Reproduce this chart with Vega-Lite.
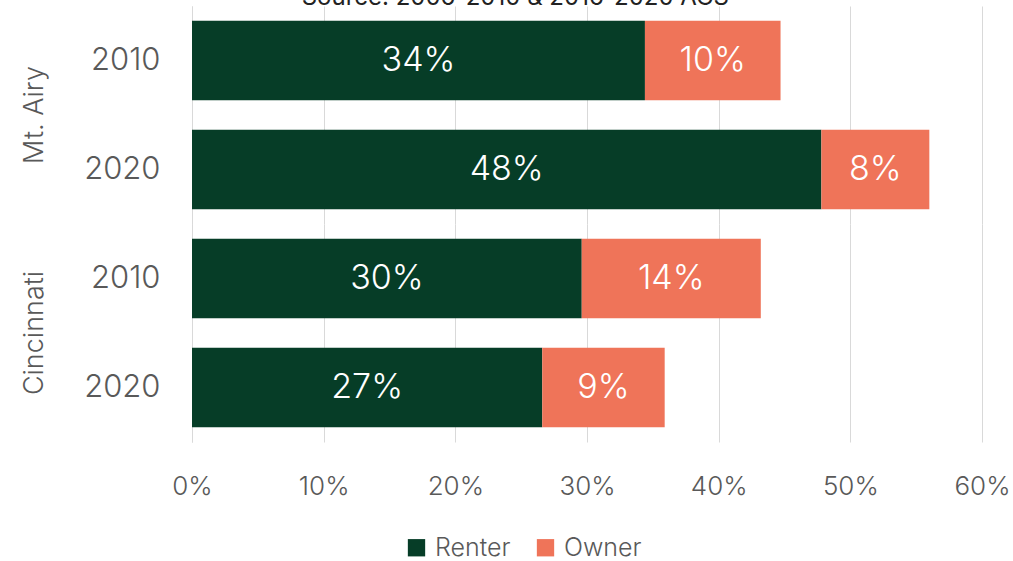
{
  "$schema": "https://vega.github.io/schema/vega-lite/v6.json",
  "background": "white",
  "padding": {"left": 20, "top": -14, "right": 3, "bottom": 2},
  "title": {"text": "Source: 2006-2010 & 2016-2020 ACS", "fontSize": 24, "font": "Inter", "fontWeight": "normal", "color": "#222222", "anchor": "middle", "offset": -4},
  "data": {"values": [
    {"area": "Mt. Airy", "year": "2010", "tenure": "Renter", "value": 0.344},
    {"area": "Mt. Airy", "year": "2010", "tenure": "Owner", "value": 0.103},
    {"area": "Mt. Airy", "year": "2020", "tenure": "Renter", "value": 0.478},
    {"area": "Mt. Airy", "year": "2020", "tenure": "Owner", "value": 0.082},
    {"area": "Cincinnati", "year": "2010", "tenure": "Renter", "value": 0.296},
    {"area": "Cincinnati", "year": "2010", "tenure": "Owner", "value": 0.136},
    {"area": "Cincinnati", "year": "2020", "tenure": "Renter", "value": 0.266},
    {"area": "Cincinnati", "year": "2020", "tenure": "Owner", "value": 0.093}
  ]},
  "transform": [
    {"stack": "value", "groupby": ["area", "year"], "sort": [{"field": "tenure", "order": "descending"}], "as": ["v0", "v1"]},
    {"calculate": "(datum.v0 + datum.v1) / 2", "as": "mid"}
  ],
  "facet": {
    "row": {"field": "area", "type": "nominal", "sort": ["Mt. Airy", "Cincinnati"],
      "header": {"title": null, "labelAngle": -90, "labelOrient": "left", "labelFontSize": 27, "labelFont": "Inter", "labelFontWeight": 300, "labelColor": "#595959", "labelPadding": 22, "labelAlign": "center", "labelBaseline": "middle"}}
  },
  "spacing": 0,
  "spec": {
    "width": 790,
    "height": 218,
    "layer": [
      {
        "mark": {"type": "bar"},
        "encoding": {
          "y": {"field": "year", "type": "nominal", "scale": {"paddingInner": 0.27, "paddingOuter": 0.135},
            "axis": {"title": null, "labelFontSize": 31, "labelFont": "Inter", "labelFontWeight": 300, "labelColor": "#595959", "labelPadding": 32, "ticks": false, "domainColor": "#d9d9d9"}},
          "x": {"field": "v0", "type": "quantitative", "scale": {"domain": [0, 0.6]},
            "axis": {"title": null, "format": ".0%", "values": [0, 0.1, 0.2, 0.3, 0.4, 0.5, 0.6], "labelFlush": false, "labelFontSize": 26, "labelFont": "Inter", "labelFontWeight": 300, "labelColor": "#595959", "labelPadding": 31, "ticks": false, "domain": false, "gridColor": "#d9d9d9"}},
          "x2": {"field": "v1"},
          "color": {"field": "tenure", "type": "nominal", "sort": ["Renter", "Owner"],
            "scale": {"domain": ["Renter", "Owner"], "range": ["#063d27", "#ef7459"]},
            "legend": {"title": null, "orient": "none", "legendX": 212, "legendY": 529, "direction": "horizontal", "symbolType": "square", "symbolSize": 300, "symbolStrokeWidth": 0, "labelFontSize": 25, "labelFont": "Inter", "labelFontWeight": 300, "labelColor": "#595959", "columnPadding": 22, "labelOffset": 6}}
        }
      },
      {
        "mark": {"type": "text", "color": "white", "fontSize": 34, "font": "Inter", "fontWeight": 300, "align": "center", "baseline": "middle"},
        "encoding": {
          "y": {"field": "year", "type": "nominal"},
          "x": {"field": "mid", "type": "quantitative"},
          "text": {"field": "value", "type": "quantitative", "format": ".0%"}
        }
      }
    ]
  },
  "config": {
    "view": {"stroke": null}
  }
}
